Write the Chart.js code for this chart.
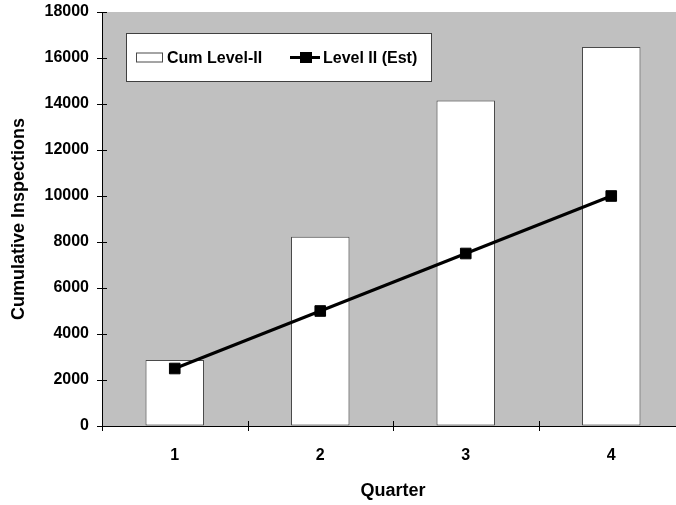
<!DOCTYPE html>
<html>
<head>
<meta charset="utf-8">
<title>Cumulative Inspections by Quarter</title>
<script src="https://cdn.jsdelivr.net/npm/chart.js@4/dist/chart.umd.min.js"></script>
<style>
  html, body { margin: 0; padding: 0; background: #fff; overflow: hidden; }
  #wrap { width: 700px; height: 505px; }
</style>
</head>
<body>
<div id="wrap"><canvas id="c" width="700" height="505"></canvas></div>
<script>
// Quarterly data
const quarters = ['1', '2', '3', '4'];
const cumLevelII = [2870, 8230, 14150, 16480];
const levelIIEst = [2500, 5000, 7500, 10000];
const yTicks = [0, 2000, 4000, 6000, 8000, 10000, 12000, 14000, 16000, 18000];

const FONT = '"Liberation Sans", Arial, Helvetica, sans-serif';
const PLOT_BG = '#c0c0c0';

// Grey plot background
const plotBackground = {
  id: 'plotBackground',
  beforeDraw(chart) {
    const { ctx, chartArea: a } = chart;
    ctx.save();
    ctx.fillStyle = PLOT_BG;
    ctx.fillRect(a.left, a.top, a.right - a.left, a.bottom - a.top);
    ctx.restore();
  }
};

// Tick marks that cross the axis lines (half outside, half inside)
const crossTicks = {
  id: 'crossTicks',
  afterDraw(chart) {
    const { ctx, chartArea: a, scales } = chart;
    const y = scales.y, x = scales.x;
    ctx.save();
    ctx.strokeStyle = '#000';
    ctx.lineWidth = 1;
    ctx.beginPath();
    yTicks.forEach(v => {
      const py = Math.round(y.getPixelForValue(v)) + 0.5;
      ctx.moveTo(a.left - 5, py);
      ctx.lineTo(a.left + 5, py);
    });
    const n = quarters.length;
    for (let i = 0; i <= n; i++) {
      let px;
      if (i === 0) px = a.left;
      else if (i === n) px = a.right;
      else px = (x.getPixelForValue(i - 1) + x.getPixelForValue(i)) / 2;
      px = Math.round(px) + 0.5;
      ctx.moveTo(px, a.bottom - 5);
      ctx.lineTo(px, a.bottom + 5);
    }
    ctx.stroke();
    ctx.restore();
  }
};

// Boxed legend inside the plot area
const boxLegend = {
  id: 'boxLegend',
  afterDraw(chart) {
    const { ctx } = chart;
    const ds = chart.data.datasets;
    const bx = 126.5, by = 33.5, bw = 305, bh = 48;
    ctx.save();
    ctx.fillStyle = '#fff';
    ctx.fillRect(bx, by, bw, bh);
    ctx.strokeStyle = '#404040';
    ctx.lineWidth = 1;
    ctx.strokeRect(bx, by, bw, bh);

    const cy = by + bh / 2;
    // bar swatch
    ctx.fillStyle = '#fff';
    ctx.fillRect(136.5, cy - 4.5, 26, 9);
    ctx.strokeStyle = '#4a4a4a';
    ctx.strokeRect(136.5, cy - 4.5, 26, 9);

    ctx.font = 'bold 16px ' + FONT;
    ctx.fillStyle = '#000';
    ctx.textBaseline = 'middle';
    ctx.textAlign = 'left';
    ctx.fillText(ds[0].label, 167, cy + 1);

    // line swatch with marker
    ctx.strokeStyle = '#000';
    ctx.lineWidth = 3;
    ctx.beginPath();
    ctx.moveTo(290, cy);
    ctx.lineTo(320, cy);
    ctx.stroke();
    ctx.fillStyle = '#000';
    ctx.fillRect(300, cy - 5.5, 12, 11);

    ctx.fillText(ds[1].label, 323, cy + 1);
    ctx.restore();
  }
};

new Chart(document.getElementById('c'), {
  type: 'bar',
  data: {
    labels: quarters,
    datasets: [
      {
        type: 'bar',
        label: 'Cum Level-II',
        data: cumLevelII,
        backgroundColor: '#ffffff',
        borderColor: '#4a4a4a',
        borderWidth: 1,
        borderSkipped: false,
        categoryPercentage: 1.0,
        barPercentage: 0.402,
        order: 1
      },
      {
        type: 'line',
        label: 'Level II (Est)',
        data: levelIIEst,
        borderColor: '#000',
        borderWidth: 3,
        backgroundColor: '#000',
        pointStyle: 'rect',
        pointRadius: 7.5,
        pointBorderWidth: 1,
        pointBackgroundColor: '#000',
        pointBorderColor: '#000',
        fill: false,
        tension: 0,
        order: 0
      }
    ]
  },
  options: {
    responsive: false,
    animation: false,
    devicePixelRatio: 1,
    layout: { padding: { left: 0, top: 12, right: 16, bottom: 0 } },
    plugins: {
      legend: { display: false },
      tooltip: { enabled: false }
    },
    scales: {
      x: {
        offset: true,
        grid: { display: true, drawOnChartArea: false, drawTicks: false, offset: true },
        border: { display: true, color: '#000', width: 1 },
        ticks: {
          color: '#000',
          font: { family: FONT, size: 16, weight: 'bold' },
          padding: 20,
          maxRotation: 0
        },
        title: {
          display: true,
          text: 'Quarter',
          color: '#000',
          font: { family: FONT, size: 18, weight: 'bold' },
          padding: { top: 0, bottom: 3 }
        },
        afterFit(scale) { scale.height = 79; scale.paddingLeft = 0; scale.paddingRight = 0; }
      },
      y: {
        min: 0,
        max: 18000,
        grid: { display: true, drawOnChartArea: false, drawTicks: false },
        border: { display: true, color: '#000', width: 1 },
        afterBuildTicks(scale) { scale.ticks = yTicks.map(v => ({ value: v })); },
        ticks: {
          color: '#000',
          font: { family: FONT, size: 16, weight: 'bold' },
          padding: 13,
          callback: v => String(v)
        },
        title: {
          display: true,
          text: 'Cumulative Inspections',
          color: '#000',
          font: { family: FONT, size: 18, weight: 'bold' },
          padding: { top: 8, bottom: 0 }
        },
        afterFit(scale) { scale.width = 102; scale.paddingTop = 0; scale.paddingBottom = 0; }
      }
    }
  },
  plugins: [plotBackground, crossTicks, boxLegend]
});
</script>
</body>
</html>
